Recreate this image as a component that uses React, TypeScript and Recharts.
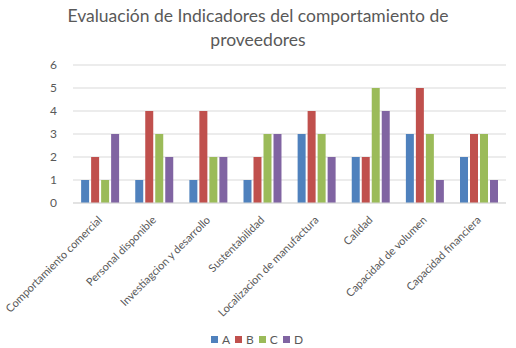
import React from "react";
import { Bar, BarChart, CartesianGrid, Legend, XAxis, YAxis } from "recharts";

const categories = [
  "Comportamiento comercial",
  "Personal disponible",
  "Investiagcion y desarrollo",
  "Sustentabilidad",
  "Localizacion de manufactura",
  "Calidad",
  "Capacidad de volumen",
  "Capacidad financiera",
];

const seriesA = [1, 1, 1, 1, 3, 2, 3, 2];
const seriesB = [2, 4, 4, 2, 4, 2, 5, 3];
const seriesC = [1, 3, 2, 3, 3, 5, 3, 3];
const seriesD = [3, 2, 2, 3, 2, 4, 1, 1];

const yTicks = [0, 1, 2, 3, 4, 5, 6];

const series = [
  { key: "A", color: "#4F81BD" },
  { key: "B", color: "#C0504D" },
  { key: "C", color: "#9BBB59" },
  { key: "D", color: "#8064A2" },
];

const data = categories.map((name, i) => ({
  name,
  A: seriesA[i],
  B: seriesB[i],
  C: seriesC[i],
  D: seriesD[i],
}));

const FONT = "Lato, 'Open Sans', sans-serif";
const TEXT = "#595959";

const CategoryTick = (props: any) => {
  const { x, y, payload } = props;
  return (
    <g transform={`translate(${x},${y + 7})`}>
      <text
        x={0}
        y={0}
        dy="0.35em"
        textAnchor="end"
        transform="rotate(-45)"
        fontSize={11}
        fontFamily={FONT}
        fill={TEXT}
      >
        {payload.value}
      </text>
    </g>
  );
};

const LegendBox = () => (
  <div
    style={{
      display: "flex",
      justifyContent: "center",
      gap: 5,
      paddingTop: 4,
      paddingLeft: 8,
      fontFamily: FONT,
      fontSize: 12,
      color: TEXT,
    }}
  >
    {series.map((s) => (
      <span key={s.key} style={{ display: "flex", alignItems: "center" }}>
        <span
          style={{
            width: 7,
            height: 7,
            background: s.color,
            display: "inline-block",
            marginRight: 4,
          }}
        />
        {s.key}
      </span>
    ))}
  </div>
);

export default function App() {
  return (
    <div
      style={{
        position: "absolute",
        left: 0,
        top: 0,
        width: 516,
        height: 348,
        background: "#fff",
      }}
    >
      <div
        style={{
          position: "absolute",
          top: 4,
          left: 0,
          width: 516,
          textAlign: "center",
          fontFamily: FONT,
          fontSize: 17.5,
          lineHeight: "24px",
          color: TEXT,
        }}
      >
        Evaluación de Indicadores del comportamiento de
        <br />
        proveedores
      </div>
      <BarChart
        width={516}
        height={348}
        data={data}
        margin={{ top: 65, right: 10, left: 0, bottom: 0 }}
        barCategoryGap="15%"
        barGap={2}
      >
        <CartesianGrid vertical={false} stroke="#D9D9D9" />
        <XAxis
          dataKey="name"
          interval={0}
          height={125}
          tickLine={false}
          stroke="#D9D9D9"
          tick={<CategoryTick />}
        />
        <YAxis
          width={73}
          domain={[0, 6]}
          ticks={yTicks}
          axisLine={false}
          tickLine={false}
          tickMargin={10}
          tick={{ fontSize: 12, fontFamily: FONT, fill: TEXT }}
        />
        <Legend verticalAlign="bottom" height={20} content={<LegendBox />} />
        {series.map((s) => (
          <Bar
            key={s.key}
            dataKey={s.key}
            fill={s.color}
            isAnimationActive={false}
          />
        ))}
      </BarChart>
    </div>
  );
}
